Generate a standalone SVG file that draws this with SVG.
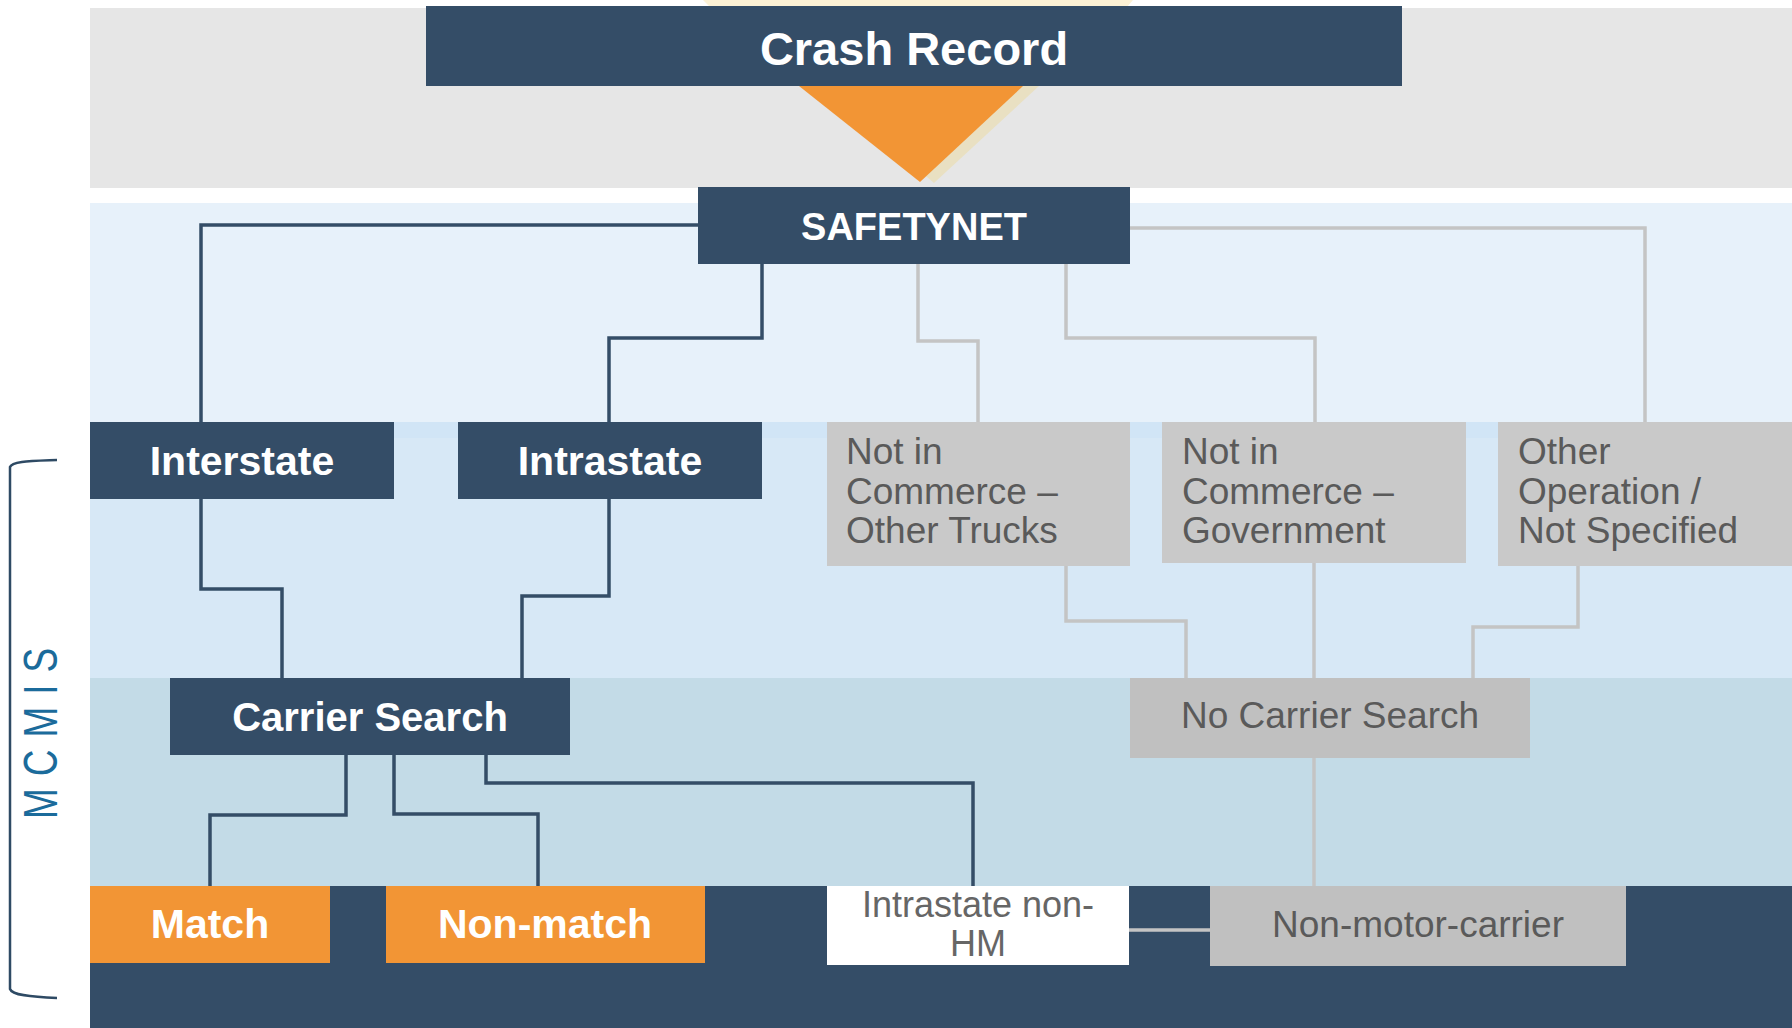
<svg xmlns="http://www.w3.org/2000/svg" width="1792" height="1028" viewBox="0 0 1792 1028">
<style>
.navy{fill:#344d67}
.orange{fill:#f29535}
.grayA{fill:#c9c9c9}
.grayB{fill:#c0c0c0}
.wt{font-family:"Liberation Sans",Arial,sans-serif;font-weight:bold;fill:#ffffff;text-anchor:middle;font-size:41px}
.gt{font-family:"Liberation Sans",Arial,sans-serif;fill:#5a5a5a;font-size:37px}
.mid{text-anchor:middle}
.cd{fill:none;stroke:#344d67;stroke-width:3.5;stroke-linejoin:miter}
.cg{fill:none;stroke:#c4c4c4;stroke-width:3.5;stroke-linejoin:miter}
</style>
<rect width="1792" height="1028" fill="#ffffff"/>
<g id="bands">
<rect x="90" y="8" width="1702" height="180" fill="#e6e6e6"/>
<rect x="90" y="203" width="1702" height="219" fill="#e7f1fa"/>
<rect x="90" y="422" width="1702" height="256" fill="#d7e8f6"/>
<rect x="90" y="422" width="1702" height="16" fill="#d1e5f6"/>
<rect x="90" y="678" width="1702" height="208" fill="#c3dbe7"/>
<rect x="90" y="886" width="1702" height="142" fill="#344d67"/>
</g>
<g id="decor">
<polygon points="703,0 1133,0 1127,7 710,7" fill="#fcf2d6"/>
<polygon points="820,86 1039,86 934,183" fill="#e9e0c2"/>
<polygon points="799,86 1023,86 920,182" fill="#f29535"/>
</g>
<g id="mcmis">
<path d="M57,460 C30,461 12,461 10,467 V989 C12,995 30,997 57,998" fill="none" stroke="#2e4a64" stroke-width="2.5"/>
<text transform="translate(57,0) rotate(-90) scale(1,1.28)" x="-819" y="0" font-family="'Liberation Sans',Arial,sans-serif" font-size="37" letter-spacing="12" fill="#1b6b9b">MCMIS</text>
</g>
<g id="connectors">
<path class="cd" d="M698,225 H201 V422"/>
<path class="cd" d="M762,264 V338 H609 V422"/>
<path class="cd" d="M201,499 V589 H282 V678"/>
<path class="cd" d="M609,499 V596 H522 V678"/>
<path class="cd" d="M346,755 V815 H210 V886"/>
<path class="cd" d="M394,755 V814 H538 V886"/>
<path class="cd" d="M486,755 V783 H973 V886"/>
<path class="cg" d="M1130,228 H1645 V422"/>
<path class="cg" d="M918,264 V341 H978 V422"/>
<path class="cg" d="M1066,264 V338 H1315 V422"/>
<path class="cg" d="M1066,566 V621 H1186 V678"/>
<path class="cg" d="M1314,563 V678"/>
<path class="cg" d="M1578,566 V627 H1473 V678"/>
<path class="cg" d="M1314,758 V886"/>
<path class="cg" d="M1129,930 H1210"/>
</g>
<g id="crash-record">
<rect class="navy" x="426" y="6" width="976" height="80"/>
<text class="wt" x="914" y="65" style="font-size:47px">Crash Record</text>
</g>
<g id="safetynet">
<rect class="navy" x="698" y="187" width="432" height="77"/>
<text class="wt" x="914" y="240" style="font-size:38px">SAFETYNET</text>
</g>
<g id="interstate">
<rect class="navy" x="90" y="422" width="304" height="77"/>
<text class="wt" x="242" y="475">Interstate</text>
</g>
<g id="intrastate">
<rect class="navy" x="458" y="422" width="304" height="77"/>
<text class="wt" x="610" y="475">Intrastate</text>
</g>
<g id="nic-other-trucks">
<rect class="grayA" x="827" y="422" width="303" height="144"/>
<text class="gt" x="846" y="464">Not in</text>
<text class="gt" x="846" y="504">Commerce –</text>
<text class="gt" x="846" y="543">Other Trucks</text>
</g>
<g id="nic-government">
<rect class="grayA" x="1162" y="422" width="304" height="141"/>
<text class="gt" x="1182" y="464">Not in</text>
<text class="gt" x="1182" y="504">Commerce –</text>
<text class="gt" x="1182" y="543">Government</text>
</g>
<g id="other-operation">
<rect class="grayA" x="1498" y="422" width="294" height="144"/>
<text class="gt" x="1518" y="464">Other</text>
<text class="gt" x="1518" y="504">Operation /</text>
<text class="gt" x="1518" y="543">Not Specified</text>
</g>
<g id="carrier-search">
<rect class="navy" x="170" y="678" width="400" height="77"/>
<text class="wt" x="370" y="731" style="font-size:40px">Carrier Search</text>
</g>
<g id="no-carrier-search">
<rect class="grayB" x="1130" y="678" width="400" height="80"/>
<text class="gt mid" x="1330" y="728">No Carrier Search</text>
</g>
<g id="match">
<rect class="orange" x="90" y="886" width="240" height="77"/>
<text class="wt" x="210" y="938">Match</text>
</g>
<g id="non-match">
<rect class="orange" x="386" y="886" width="319" height="77"/>
<text class="wt" x="545" y="938">Non-match</text>
</g>
<g id="intrastate-non-hm">
<rect x="827" y="886" width="302" height="79" fill="#ffffff"/>
<text class="gt mid" x="978" y="917" style="font-size:36px;fill:#666666">Intrastate non-</text>
<text class="gt mid" x="978" y="956" style="font-size:36px;fill:#666666">HM</text>
</g>
<g id="non-motor-carrier">
<rect class="grayB" x="1210" y="886" width="416" height="80"/>
<text class="gt mid" x="1418" y="937">Non-motor-carrier</text>
</g>
</svg>
